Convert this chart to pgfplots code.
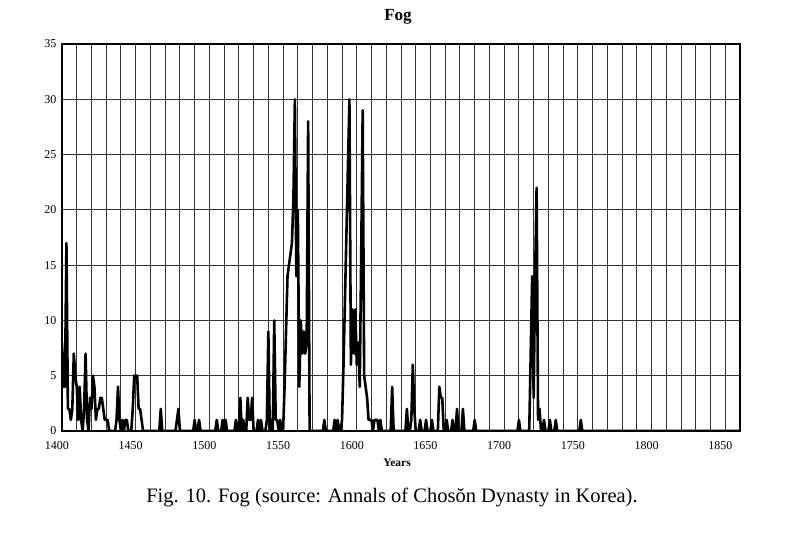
\documentclass[border=0pt]{standalone}
\usepackage{fontspec}
\setmainfont{Liberation Serif}
\usepackage{pgfplots}
\pgfplotsset{compat=1.18}

% yearly fog counts (zero stretches shortened to their end points)
\pgfplotstableread{
year n
1400 8
1401 4
1402 4
1403 17
1404 2
1405 2
1406 1
1407 2
1408 7
1409 5
1410 4
1411 1
1412 4
1413 1
1414 0
1415 2
1416 7
1417 1
1418 0
1419 3
1420 2
1421 5
1422 4
1423 1
1424 2
1425 2
1426 3
1427 3
1428 2
1429 1
1430 1
1431 1
1432 0
1436 0
1437 1
1438 4
1439 1
1440 0
1441 1
1442 0
1443 1
1444 1
1445 0
1447 0
1448 2
1449 5
1450 5
1451 5
1452 2
1453 2
1454 1
1455 0
1466 0
1467 2
1468 0
1477 0
1478 1
1479 2
1480 0
1489 0
1490 1
1491 0
1492 0
1493 1
1494 0
1504 0
1505 1
1506 0
1508 0
1509 1
1510 0
1511 1
1512 0
1517 0
1518 1
1519 0
1520 0
1521 3
1522 0
1523 1
1524 0
1525 0
1526 3
1527 1
1528 1
1529 3
1530 0
1532 0
1533 1
1534 0
1535 1
1536 0
1538 0
1539 1
1540 9
1541 0
1542 1
1543 0
1544 10
1545 1
1546 1
1547 0
1548 1
1549 0
1550 0
1551 4
1552 9
1553 14
1554 15
1555 16
1556 17
1557 21
1558 30
1559 14
1560 20
1561 4
1562 10
1563 7
1564 9
1565 7
1566 8
1567 28
1568 0
1577 0
1578 1
1579 0
1584 0
1585 1
1586 0
1587 1
1588 0
1589 0
1590 1
1591 6
1592 12
1593 18
1594 24
1595 30
1596 6
1597 11
1598 7
1599 11
1600 6
1601 8
1602 4
1603 16
1604 29
1605 5
1606 4
1607 3
1608 1
1609 1
1610 1
1611 0
1612 1
1613 1
1614 1
1615 0
1616 1
1617 0
1623 0
1624 4
1625 0
1633 0
1634 2
1635 0
1636 0
1637 1
1638 6
1639 2
1640 0
1642 0
1643 1
1644 0
1646 0
1647 1
1648 0
1650 0
1651 1
1652 0
1655 0
1656 4
1657 3
1658 3
1659 0
1660 0
1661 1
1662 0
1664 0
1665 1
1666 0
1667 0
1668 2
1669 0
1671 0
1672 2
1673 0
1679 0
1680 1
1681 0
1709 0
1710 1
1711 0
1717 0
1718 7
1719 14
1720 3
1721 14
1722 22
1723 1
1724 2
1725 0
1726 0
1727 1
1728 0
1730 0
1731 1
1732 0
1734 0
1735 1
1736 0
1751 0
1752 1
1753 0
1860 0
}\fog

\begin{document}
\begin{tikzpicture}
\useasboundingbox (-62pt,-101pt) rectangle (737pt,431pt);
\begin{axis}[
  at={(0pt,0pt)}, anchor=south west,
  scale only axis, width=678pt, height=387pt,
  xmin=1400, xmax=1860, ymin=0, ymax=35,
  xtick={1400,1450,...,1850},
  minor xtick={1410,1420,...,1860},
  ytick={0,5,...,35},
  grid=both,
  major grid style={black!80, line width=1pt},
  minor grid style={black!80, line width=1pt},
  axis line style={black, line width=1.1pt},
  major tick length=0pt, minor tick length=0pt,
  /pgf/number format/assume math mode=true,
  /pgf/number format/1000 sep={},
  ticklabel style={font=\fontsize{12}{14}\selectfont},
  xticklabel style={yshift=-7pt, xshift=-5pt},
  yticklabel style={xshift=-2pt},
]
\addplot[black, line width=2.6pt, line join=round] table[x=year, y=n] {\fog};
\end{axis}
\node[font=\bfseries\fontsize{17}{20}\selectfont] at (336pt,414pt) {Fog};
\node[font=\bfseries\fontsize{11.5}{13}\selectfont] at (335pt,-32pt) {Years};
\node[font=\fontsize{20.5}{24}\selectfont] at (330pt,-66pt) {Fig. 10. Fog (source: Annals of Chosŏn Dynasty in Korea).};
\end{tikzpicture}
\end{document}
